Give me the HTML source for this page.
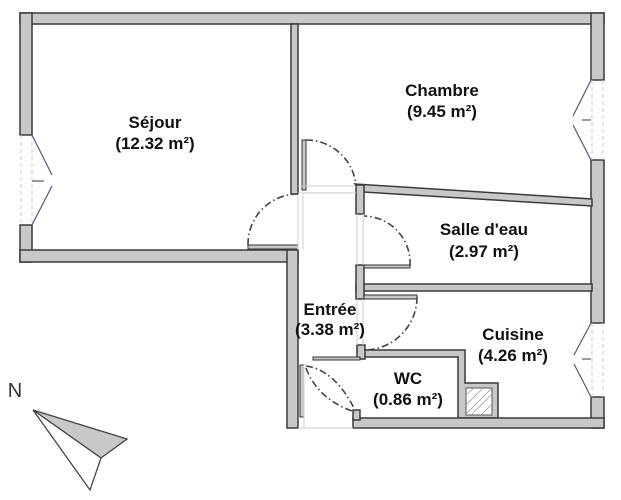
<!DOCTYPE html>
<html><head><meta charset="utf-8"><style>
html,body{margin:0;padding:0;background:#fff;width:621px;height:500px;overflow:hidden}
svg{display:block}
text{font-family:"Liberation Sans",sans-serif;font-weight:bold;font-size:17px;fill:#111;text-anchor:middle}
</style></head><body>
<svg width="621" height="500" viewBox="0 0 621 500" xmlns="http://www.w3.org/2000/svg">
<g fill="#c8c8c8" stroke="#3a3a3a" stroke-width="1.5">
<rect x="20" y="13" width="584" height="11"/>
<rect x="20" y="13" width="12" height="122"/>
<rect x="20" y="225" width="12" height="37"/>
<rect x="20" y="250" width="278" height="12"/>
<rect x="291" y="24" width="7" height="170"/>
<rect x="287" y="250" width="11" height="178"/>
<rect x="591" y="13" width="13" height="67"/>
<rect x="591" y="160" width="13" height="163"/>
<rect x="591" y="397" width="13" height="31"/>
<polygon points="355,184 592,199 592,206 363,192"/>
<rect x="356" y="185" width="8" height="29"/>
<rect x="356" y="284" width="236" height="7"/>
<rect x="356" y="265" width="8" height="34"/>
<polygon points="360,350 465,350 465,383 498,383 498,418 458,418 458,357 360,357"/>
<rect x="357" y="345" width="8" height="14"/>
<rect x="353" y="418" width="251" height="10"/>
<rect x="353" y="410" width="7" height="10"/>
</g>
<rect x="466" y="388" width="26" height="27" fill="#fff" stroke="#555" stroke-width="1"/>
<g stroke="#999" stroke-width="0.8">
<line x1="466" y1="405" x2="483" y2="388"/><line x1="466" y1="395" x2="474" y2="388"/><line x1="471" y1="415" x2="492" y2="394"/><line x1="481" y1="415" x2="492" y2="404"/><line x1="466" y1="414" x2="492" y2="388"/>
</g>
<g fill="#c8c8c8" stroke="#333" stroke-width="1">
<rect x="302" y="140" width="4" height="50"/>
<rect x="248" y="245" width="50" height="4"/>
<rect x="364" y="265" width="46" height="3"/>
<rect x="364" y="295" width="53" height="4"/>
<rect x="313" y="357" width="47" height="3"/>
<rect x="300" y="365" width="4" height="52"/>
</g>
<g stroke="#ccc" stroke-width="1" fill="none">
<line x1="298" y1="186" x2="356" y2="186"/><line x1="298" y1="193" x2="356" y2="193"/>
<line x1="298" y1="194" x2="298" y2="250"/><line x1="303" y1="194" x2="303" y2="250"/>
<line x1="357" y1="214" x2="357" y2="265"/><line x1="363" y1="214" x2="363" y2="265"/>
<line x1="357" y1="299" x2="357" y2="345"/><line x1="363" y1="299" x2="363" y2="345"/>
<line x1="298" y1="428" x2="353" y2="428"/><line x1="304" y1="365" x2="304" y2="428"/>
</g>
<g stroke="#444" stroke-width="1.6" fill="none" stroke-dasharray="7,3,1.5,3">
<path d="M306,140 A50,50 0 0 1 356,186"/>
<path d="M248,245 A50,50 0 0 1 298,194"/>
<path d="M410,266 A47,47 0 0 0 364,216"/>
<path d="M417,297 A53,53 0 0 1 364,350"/>
<path d="M306,366 Q335,370 355,410"/>
<path d="M306,368 Q318,400 355,412"/>
</g>
<g stroke="#ccc" stroke-width="1" stroke-dasharray="4,3" fill="none">
<line x1="21" y1="135" x2="21" y2="225"/><line x1="32" y1="135" x2="32" y2="225"/>
<line x1="603" y1="80" x2="603" y2="160"/><line x1="592" y1="80" x2="592" y2="160"/>
<line x1="603" y1="323" x2="603" y2="397"/><line x1="592" y1="323" x2="592" y2="397"/>
</g>
<g stroke="#55557a" stroke-width="1.2" fill="none">
<polyline points="32,135 52,175"/><polyline points="52,186 32,225"/><line x1="32" y1="181" x2="44" y2="181"/>
<polyline points="591,80 573,116"/><polyline points="573,125 591,160"/><line x1="582" y1="120" x2="591" y2="120"/>
<polyline points="591,323 574,355"/><polyline points="574,364 591,397"/><line x1="582" y1="359" x2="591" y2="359"/>
</g>
<text x="155" y="128">Séjour</text><text x="155" y="149">(12.32 m²)</text>
<text x="442" y="96">Chambre</text><text x="442" y="117">(9.45 m²)</text>
<text x="484" y="235">Salle d'eau</text><text x="484" y="257">(2.97 m²)</text>
<text x="330" y="315">Entrée</text><text x="330" y="335">(3.38 m²)</text>
<text x="513" y="340">Cuisine</text><text x="513" y="361">(4.26 m²)</text>
<text x="408" y="384">WC</text><text x="408" y="405">(0.86 m²)</text>
<text x="15" y="397" style="font-weight:normal;font-size:20px;fill:#333">N</text>
<polygon points="33,410 127,439 101,458" fill="#c8c8c8" stroke="#444" stroke-width="1.3"/>
<polygon points="33,410 101,458 90,490" fill="#fff" stroke="#444" stroke-width="1.3"/>
</svg>
</body></html>
